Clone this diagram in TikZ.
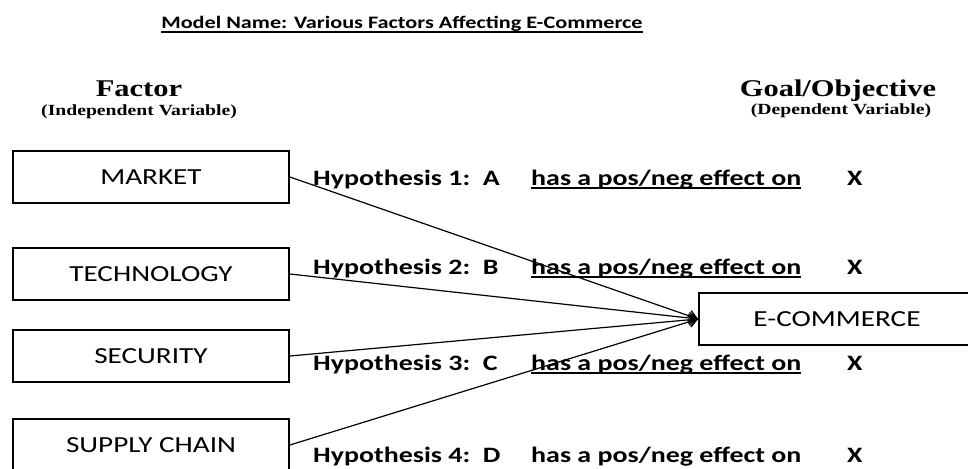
\documentclass[tikz,border=0pt]{standalone}
\usepackage{fontspec}
\setmainfont[FakeStretch=1.27]{Carlito}
\newfontfamily\tnr[FakeStretch=1.27]{Liberation Serif}
\usetikzlibrary{arrows.meta}
\begin{document}
\begin{tikzpicture}[x=1pt,y=-1pt,
  fbox/.style={draw, line width=1.8pt, minimum width=276pt, minimum height=52pt, inner sep=0pt, font=\fontsize{23}{27}\selectfont},
  hyp/.style={anchor=base west, inner sep=0pt, font=\bfseries\fontsize{22}{26}\selectfont},
  head/.style={anchor=base, inner sep=0pt, font=\tnr\bfseries\fontsize{24}{28}\selectfont},
  sub/.style={anchor=base, inner sep=0pt, font=\tnr\bfseries\fontsize{15.5}{18}\selectfont},
  link/.style={line width=1.2pt, -{Straight Barb[length=8pt,width=11pt,line width=1.4pt]}},
  ul/.style={line width=1.5pt}]
\clip (0,0) rectangle (968,468);
\fill[white] (0,0) rectangle (968,468);
% title
\node[anchor=base, inner sep=0pt, font=\bfseries\fontsize{17.5}{20}\selectfont] (title) at (402,29) {Model Name: Various Factors Affecting E-Commerce};
\draw[line width=1.3pt] ([yshift=-3pt]title.base west) -- ([yshift=-3pt]title.base east);
% headers
\node[head] (fac) at (139,97) {Factor};
\node[sub] (ind) at (139,115) {(Independent Variable)};
\node[head] (goal) at (838,97) {Goal/Objective};
\node[sub] (dep) at (841,114) {(Dependent Variable)};
% boxes
\node[fbox] (mk) at (151,177) {MARKET};
\node[fbox] (te) at (151,274) {TECHNOLOGY};
\node[fbox] (se) at (151,356) {SECURITY};
\node[fbox] (sc) at (151,445) {SUPPLY CHAIN};
\node[fbox] (ec) at (837,319) {E-COMMERCE};
% connectors
\draw[link] (mk.east) -- (ec.west);
\draw[link] (te.east) -- (ec.west);
\draw[link] (se.east) -- (ec.west);
\draw[link] (sc.east) -- (ec.west);
% hypotheses
\node[hyp] (h1a) at (313,185) {Hypothesis 1:\ \ A};
\node[hyp] (h1b) at (531,185) {has a pos/neg effect on};
\node[hyp] (h1c) at (847,185) {X};
\draw[ul] ([yshift=-3pt]h1b.base west) -- ([yshift=-3pt]h1b.base east);
\node[hyp] (h2a) at (313,274) {Hypothesis 2:\ \ B};
\node[hyp] (h2b) at (531,274) {has a pos/neg effect on};
\node[hyp] (h2c) at (847,274) {X};
\draw[ul] ([yshift=-3pt]h2b.base west) -- ([yshift=-3pt]h2b.base east);
\node[hyp] (h3a) at (313,370) {Hypothesis 3:\ \ C};
\node[hyp] (h3b) at (531,370) {has a pos/neg effect on};
\node[hyp] (h3c) at (847,370) {X};
\draw[ul] ([yshift=-3pt]h3b.base west) -- ([yshift=-3pt]h3b.base east);
\node[hyp] (h4a) at (313,462) {Hypothesis 4:\ \ D};
\node[hyp] (h4b) at (531,462) {has a pos/neg effect on};
\node[hyp] (h4c) at (847,462) {X};
\end{tikzpicture}
\end{document}
